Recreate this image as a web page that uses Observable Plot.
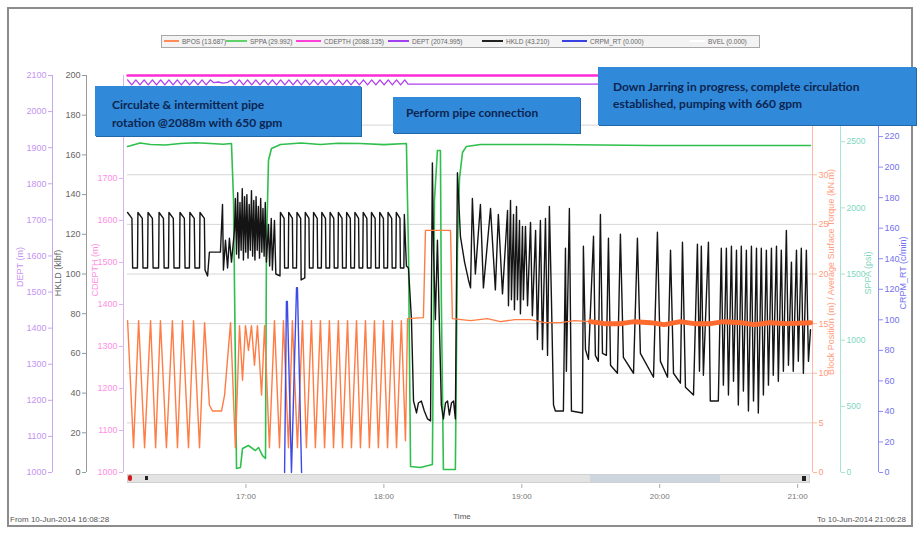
<!DOCTYPE html>
<html><head><meta charset="utf-8">
<script src="https://cdn.jsdelivr.net/npm/d3@7"></script>
<script src="https://cdn.jsdelivr.net/npm/@observablehq/plot@0.6"></script>
<style>
body{margin:0;background:#fff;}
#wrap{position:relative;width:920px;height:533px;overflow:hidden;font-family:"Liberation Sans",Arial,sans-serif;background:#fff;}
.box{position:absolute;background:#3189d9;color:#0b2550;font-family:Lato,"Open Sans",sans-serif;font-weight:bold;font-size:12px;line-height:18px;box-shadow:1px 1px 0 #2367a8;white-space:nowrap;}
</style></head>
<body><div id="wrap"></div>
<script>
// time in minutes after 16:00 on 10-Jun-2014
const sppa = [[8.5,2464],[14,2490],[18.5,2479],[25,2475],[31.5,2486],[38,2492],[44.6,2486],[50,2480],[53.7,2486],[54.6,2055],[55.9,30],[57.6,38],[58.5,181],[61.1,204],[64.1,166],[65.5,189],[67.2,128],[68.5,106],[68.9,1678],[69.8,2358],[71.1,2448],[75.0,2479],[84,2490],[92.4,2479],[100,2488],[109.8,2486],[120,2478],[129.8,2486],[130.7,1678],[131.6,45],[135.9,38],[141.1,60],[142.0,2055],[143.3,2433],[144.6,2433],[145.0,1300],[145.9,23],[151.1,23],[152.0,1678],[152.9,2222],[154.2,2418],[155.9,2464],[162.0,2479],[192.5,2479],[236.0,2471],[279.4,2471],[305.6,2471]];
const bpos = [[8.5,15.3],[11.1,2.5],[13.3,15.3],[15.9,2.5],[18.5,15.3],[20.7,2.5],[22.8,15.3],[25.4,2.5],[28.0,15.3],[30.2,2.5],[32.4,15.3],[35.0,2.5],[37.2,15.3],[39.8,2.5],[42.0,15.1],[44.1,6.8],[45.4,6.2],[49.4,6.2],[50.7,7.8],[53.3,15.1],[55.4,2.5],[57.2,14.8],[58.5,9.3],[59.8,14.8],[61.1,12.3],[62.4,14.8],[63.7,10.8],[65.0,14.8],[66.8,7.8],[68.1,14.8],[70.2,2.5],[72.4,15.3],[74.6,2.5],[76.3,15.3],[78.5,2.5],[80.2,15.3],[82.4,2.5],[84.6,15.3],[86.3,2.5],[88.5,15.3],[90.2,2.5],[92.4,15.3],[94.2,2.5],[96.3,15.3],[98.1,2.5],[100.2,15.3],[102.0,2.5],[104.2,15.3],[105.9,2.5],[108.1,15.3],[109.8,2.5],[112.0,15.3],[113.7,2.5],[115.9,15.3],[117.6,2.5],[119.8,15.3],[121.6,2.5],[123.7,15.3],[125.5,2.5],[127.6,15.3],[129.4,3.2],[130.3,15.5],[137.2,15.6],[138.1,24.4],[149.0,24.4],[149.8,15.5],[157.7,15.3],[165,15.5],[170.7,15.2],[177,15.4],[183.8,15.4],[190,15.1],[196.8,15.1],[203,15.3],[209.9,15.2],[216,15.0],[222.9,15.0],[229,15.2],[236.0,15.1],[242,14.9],[249.0,15.2],[255,15.0],[262.1,15.0],[268,15.2],[275.1,15.1],[281,14.9],[288.1,15.1],[295,15.0],[305.6,15.1]];
const hkld = [[8.5,131],[10.4,128],[10.7,103],[12.8,103],[13.0,131],[14.9,128],[15.2,103],[17.2,103],[17.4,131],[19.3,128],[19.6,103],[22.0,103],[22.2,131],[24.1,128],[24.4,103],[26.3,103],[26.5,131],[28.4,128],[28.7,103],[31.1,103],[31.3,131],[33.2,128],[33.5,103],[35.4,103],[35.6,131],[37.5,128],[37.8,103],[39.8,103],[40.0,131],[41.9,128],[42.2,102],
[43.3,99],[44.1,111],[48.9,111],[49.8,135],[50.2,102],[51.1,117],[52.0,103],[52.8,118],[53.7,106],[55.0,122],
[55.4,138],[55.9,110],[56.4,141],[56.9,108],[57.4,136],[57.9,112],[58.4,143],[58.9,107],[59.4,139],[59.9,111],[60.4,140],[60.9,108],[61.4,135],[61.9,112],[62.4,142],[62.9,109],[63.4,137],[63.9,107],[64.4,139],[64.9,112],[65.4,134],[65.9,108],[66.4,138],[66.9,111],[67.4,133],[67.9,109],[68.4,136],[68.9,106],
[69.8,125],[70.3,104],[71.0,128],[71.5,102],[72.4,127],[73.0,100],[74.8,99],
[75.0,131],[76.6,128],[76.8,103],[78.4,103],[78.6,131],[80.2,128],[80.4,103],[82.0,103],[82.2,131],[83.8,128],[84.0,97],[85.6,98],[85.8,131],[87.4,128],[87.6,103],[89.2,103],[89.4,131],[91.0,128],[91.2,103],[92.8,103],[93.0,131],[94.6,128],[94.8,103],[96.4,103],[96.6,131],[98.2,128],[98.4,103],[100.0,103],[100.2,131],[101.8,128],[102.0,103],[103.6,103],[103.8,131],[105.4,128],[105.6,103],[107.2,103],[107.4,131],[109.0,128],[109.2,103],[110.8,103],[111.0,131],[112.6,128],[112.8,103],[114.4,103],[114.6,131],[116.2,128],[116.4,103],[118.0,103],[118.2,131],[119.8,128],[120.0,103],[121.6,103],[121.8,131],[123.4,128],[123.6,103],[125.2,103],[125.4,131],[127.0,128],[127.2,103],[128.7,103],
[128.9,130],[129.8,104],[130.7,103],[132.0,77],[132.9,36],[134.2,30],[135.0,35],[136.3,36],[137.6,31],[139.0,27],[140.3,26],[141.1,156],[141.6,112],[142.4,77],[143.3,117],[144.2,72],[145.0,34],[145.9,27],[146.8,35],[147.7,36],[148.5,29],[149.4,35],[150.3,36],[151.1,27],[152.0,151],[153.3,119],[155.1,106],[156.8,97],[157.7,93],
[158.5,138],[159.8,100],[162.0,135],[163.3,93],[166.4,133],[168.5,92],[169.8,130],[171.6,90],
[173.8,132],[174.2,84],[175.1,137],[175.5,87],[176.4,130],[176.8,82],[177.7,134],[178.1,87],[179.0,127],[179.4,80],[180.3,124],[180.7,87],
[181.6,124],[182.5,84],[183.8,126],[184.6,79],[186.0,122],[186.8,67],[188.1,127],[189.0,62],[190.3,128],[191.2,59],[192.0,134],[192.9,87],
[193.8,34],[194.6,31],[198.1,31],[199.0,113],[199.4,51],[200.7,133],[201.6,31],[206.4,30],[206.8,114],[207.7,62],[209.0,57],[211.2,119],[212.0,59],[213.3,56],[214.2,130],[215.1,60],[216.8,59],[217.7,118],[218.6,54],[221.6,50],[222.9,120],[224.2,58],[228.6,50],[230.3,118],[231.6,60],[237.3,48],[239.0,121],[240.3,56],[243.4,48],[244.7,112],[246.0,50],[249.0,45],[249.9,116],[251.2,43],[254.7,39],[256.4,115],[257.3,51],[258.1,114],[259.0,49],[261.2,116],[262.0,36],[265.5,36],
[266.8,113],[267.7,44],[269.0,113],[269.9,39],[271.2,114],[272.1,46],[273.4,112],[274.2,34],[275.5,114],[276.4,41],[277.7,112],[278.6,31],[279.9,114],[280.8,36],[282.1,113],[282.9,30],[284.2,113],[285.1,39],[286.4,112],[287.3,44],[288.6,113],[289.4,49],[290.8,114],[291.6,46],[292.9,112],[293.8,51],[295.1,122],[296.0,54],[297.3,106],[298.1,51],[299.5,112],[300.3,56],[301.6,113],[302.5,50],[303.8,112],[304.7,56],[305.6,72]];
const crpm = [[76.8,0],[77.6,112],[78.0,112],[79.8,0],[82.0,121],[82.4,121],[84.2,0]];
const dept = [[8.5,2088],[10.3,2074],[12.1,2088],[13.9,2074],[15.7,2088],[17.5,2074],[19.3,2088],[21.1,2074],[22.9,2088],[24.7,2074],[26.5,2088],[28.3,2074],[30.1,2088],[31.9,2074],[33.7,2088],[35.5,2074],[37.3,2088],[39.1,2074],[40.9,2088],[42.7,2074],[44.5,2088],[46.0,2080],[48.0,2082],[50.0,2079],[52.0,2081],[53.5,2087],[55.3,2074],[57.1,2088],[58.9,2074],[60.7,2088],[62.5,2074],[64.3,2088],[66.1,2074],[67.9,2088],[69.7,2074],[71.5,2088],[73.3,2074],[75.1,2088],[76.9,2074],[78.7,2088],[80.5,2074],[82.3,2088],[84.1,2074],[85.9,2088],[87.7,2074],[89.5,2088],[91.3,2074],[93.1,2088],[94.9,2074],[96.7,2088],[98.5,2074],[100.3,2088],[102.1,2074],[103.9,2088],[105.7,2074],[107.5,2088],[109.3,2074],[111.1,2088],[112.9,2074],[114.7,2088],[116.5,2074],[118.3,2088],[120.1,2074],[121.9,2088],[123.7,2074],[125.5,2088],[127.3,2074],[129.1,2088],[130.5,2076],[305.6,2076]];
const cdepth = [[8.5,2088.1],[305.6,2088.1]];

const deptTicks = d3.range(1000, 2101, 100);
const hkldTicks = d3.range(0, 201, 20);
const cdepthTicks = d3.range(1000, 1701, 100);
const bposTicks = d3.range(0, 31, 5);
const sppaTicks = d3.range(0, 2501, 500);
const crpmTicks = d3.range(0, 221, 20);
const gridVals = d3.range(5, 40, 5);
const hours = [17, 18, 19, 20, 21];

const legendNames = ["BPOS (13.687)", "SPPA (29.992)", "CDEPTH (2088.135)", "DEPT (2074.995)", "HKLD (43.210)", "CRPM_RT (0.000)", "BVEL (0.000)"];
const axisTitles = ["DEPT (m)", "HKLD (klbf)", "CDEPTH (m)", "Block Position (m) / Average Surface Torque (kN.m)", "SPPA (psi)", "CRPM_RT (c/min)"];
const notes = [["Circulate & intermittent pipe", "rotation @2088m with 650 gpm"], ["Perform pipe connection"], ["Down Jarring in progress, complete circulation", "established, pumping with 660 gpm"]];
const fromText = "From 10-Jun-2014 16:08:28", toText = "To 10-Jun-2014 21:06:28", timeLabel = "Time";

// ---------- rendering ----------
const wrap = document.getElementById("wrap");
const t0 = Date.UTC(2014, 5, 10, 16, 0, 0);
const T = m => new Date(t0 + m * 60000);
const xDomain = [new Date(Date.UTC(2014, 5, 10, 16, 8, 28)), new Date(Date.UTC(2014, 5, 10, 21, 6, 28))];
const FONT = "'Liberation Sans', Arial, sans-serif";

function addDiv(css, text, cls) {
  const d = document.createElement("div");
  d.style.cssText = "position:absolute;" + css;
  if (cls) d.className = cls;
  if (text != null) d.textContent = text;
  wrap.appendChild(d);
  return d;
}
// outer frame
addDiv("left:7px;top:7px;width:906px;height:520px;border:2px solid #8c8c8c;box-sizing:border-box;");

function layer(yOpts, marks) {
  const svg = Plot.plot({
    width: 920, height: 533, marginLeft: 127, marginRight: 108, marginTop: 75, marginBottom: 61,
    x: {type: "utc", domain: xDomain, axis: null},
    y: {axis: null, ...yOpts},
    style: {position: "absolute", left: "0px", top: "0px", background: "transparent", overflow: "visible", fontFamily: FONT},
    marks
  });
  wrap.appendChild(svg);
}
const line = (data, stroke, strokeWidth) => Plot.line(data, {x: d => T(d[0]), y: d => d[1], stroke, strokeWidth, strokeLinejoin: "round"});
function axis(side, dx, ticks, text, rule, fontSize = 9) {
  return [
    Plot.ruleX([side === "left" ? xDomain[0] : xDomain[1]], {dx, stroke: rule, strokeWidth: 1}),
    Plot.axisY({ticks, anchor: side, dx, tickSize: 4, tickPadding: 2, fontSize, fill: text, stroke: rule, tickFormat: d => String(d), label: null})
  ];
}

layer({domain: [0, 40]}, [
  Plot.gridY(gridVals, {stroke: "#d6d6d6", strokeOpacity: 1}),
  ...axis("right", 0, bposTicks, "#ff9c7c", "#ffb8a0")
]);
layer({domain: [0, 3000]}, [
  line(sppa, "#2fbf4c", 1.6),
  ...axis("right", 28, sppaTicks, "#7fd6c0", "#a6e4d4", 8.5)
]);
layer({domain: [0, 200]}, [
  line(hkld, "#141414", 1.4),
  ...axis("left", -41, hkldTicks, "#666", "#999"),
  Plot.axisX({ticks: hours.map(h => new Date(Date.UTC(2014, 5, 10, h))), tickFormat: d3.utcFormat("%H:%M"), anchor: "bottom", dy: 12, tickSize: 4, fontSize: 8, fill: "#777", stroke: "#aaa", label: null})
]);
layer({domain: [0, 40]}, [
  line(bpos, "#ff7c44", 1.4),
  line(bpos.filter(d => d[0] >= 206), "#ff6a2e", 5)
]);
layer({domain: [0, 260]}, [
  line(crpm, "#3d4be6", 1.4),
  ...axis("right", 66, crpmTicks, "#7472ee", "#8d8bf5")
]);
layer({domain: [1000, 2100]}, [
  line(dept, "#b040f0", 1.3),
  ...axis("left", -75, deptTicks, "#c594f2", "#c8a6ee")
]);
layer({domain: [1000, 1945], clamp: true}, [
  line(cdepth, "#ff2ad8", 2.5),
  ...axis("left", -4, cdepthTicks, "#ff8fe3", "#d8b4ef")
]);

// scrollbar strip under the plot
addDiv("left:127px;top:474px;width:681px;height:7px;background:#e3e3e3;border:1px solid #d0d0d0;");
addDiv("left:590px;top:475px;width:130px;height:7px;background:#cdd5df;");
addDiv("left:128px;top:475px;width:4px;height:6px;background:#d01c1c;border-radius:2px;");
addDiv("left:145px;top:476px;width:3px;height:4px;background:#222;");
addDiv("left:802px;top:476px;width:4px;height:5px;background:#222;");

// axis titles
const titleLayout = [[20, 267, "#c594f2"], [58, 273, "#666"], [95, 270, "#ff8fe3"], [831, 272, "#ff9c7c"], [868, 273, "#7fd6c0"], [903, 273, "#7472ee"]];
axisTitles.forEach((t, i) => {
  const [x, y, c] = titleLayout[i];
  addDiv(`left:${x}px;top:${y}px;transform:translate(-50%,-50%) rotate(-90deg);white-space:nowrap;font-size:9px;color:${c};`, t);
});

// legend
const legendColors = ["#ff8a5a", "#5fd36a", "#ff40d8", "#a040f0", "#222", "#3840e0", "#ffffff"];
const swX = [164, 226, 296, 388, 482, 562, 690], txX = [182, 250, 324, 412, 506, 590, 708];
addDiv("left:161px;top:35px;width:599px;height:13px;background:#f3f3f3;border:1px solid #a8a8a8;box-sizing:border-box;");
legendNames.forEach((n, i) => {
  addDiv(`left:${swX[i]}px;top:40px;width:${txX[i] - swX[i] - 3}px;height:2px;background:${legendColors[i]};`);
  addDiv(`left:${txX[i]}px;top:37px;font-size:6.5px;line-height:9px;color:#666;white-space:nowrap;`, n);
});

// annotation boxes
const boxLayout = ["left:95px;top:86px;width:249px;height:40px;padding:10px 0 0 17px;", "left:393px;top:97px;width:174px;height:29px;padding:7px 0 0 13px;", "left:598px;top:67px;width:303px;height:47px;padding:11px 0 0 15px;line-height:17px;"];
notes.forEach((lines, i) => {
  const b = addDiv(boxLayout[i], null, "box");
  lines.forEach(l => { const d = document.createElement("div"); d.textContent = l; b.appendChild(d); });
});

// footer texts
addDiv("left:462px;top:512px;transform:translateX(-50%);font-size:8px;color:#555;", timeLabel);
addDiv("left:10px;top:515px;font-size:8px;color:#555;white-space:nowrap;", fromText);
addDiv("right:14px;top:515px;font-size:8px;color:#555;white-space:nowrap;", toText);
</script>
</body></html>
